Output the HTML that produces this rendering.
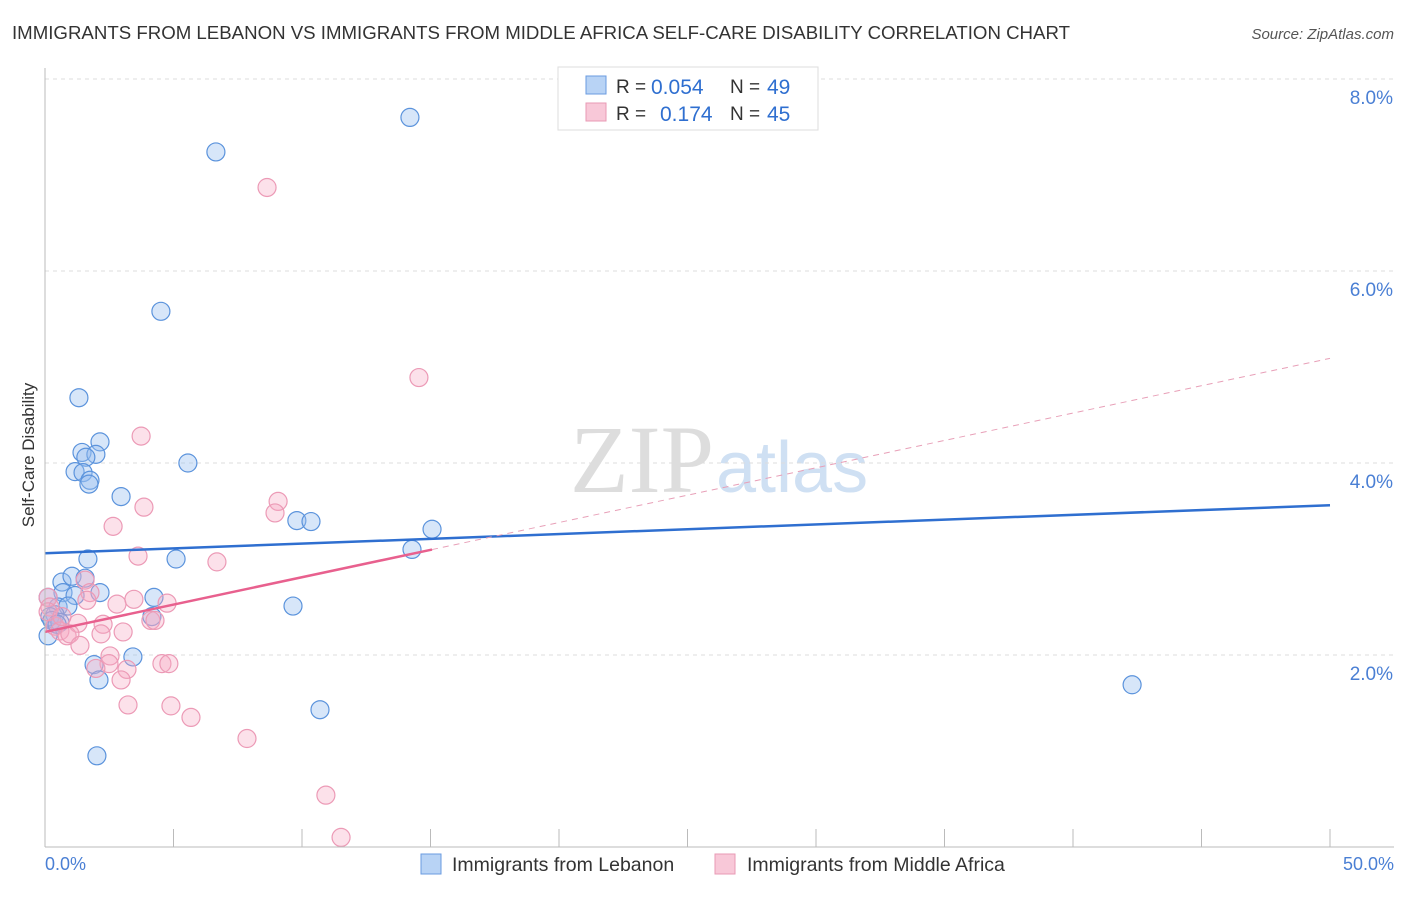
<!DOCTYPE html>
<html><head><meta charset="utf-8"><style>
body{margin:0;background:#fff;font-family:"Liberation Sans",sans-serif}
</style></head><body>
<svg id="c" width="1406" height="892" xmlns="http://www.w3.org/2000/svg">
<text x="12" y="39" font-size="18" fill="#333" textLength="1058" lengthAdjust="spacingAndGlyphs">IMMIGRANTS FROM LEBANON VS IMMIGRANTS FROM MIDDLE AFRICA SELF-CARE DISABILITY CORRELATION CHART</text>
<text x="1394" y="39" font-size="15" fill="#555" font-style="italic" text-anchor="end">Source: ZipAtlas.com</text>
<text x="714" y="492" font-size="96" fill="#ddd" font-family="Liberation Serif" text-anchor="end">ZIP</text>
<text x="716" y="492" font-size="72" fill="#cfe0f3">atlas</text>
<g id="grid"></g><g id="pts"></g><g id="lines"></g>
<line x1="45" y1="68" x2="45" y2="847" stroke="#bbb"/>
<line x1="45" y1="847" x2="1394" y2="847" stroke="#bbb"/>
<text x="34" y="455" font-size="17" fill="#333" transform="rotate(-90 34 455)" text-anchor="middle">Self-Care Disability</text>
<text x="45" y="870" font-size="18" fill="#4a7fd4">0.0%</text>
<text x="1394" y="870" font-size="18" fill="#4a7fd4" text-anchor="end">50.0%</text>
<g>
<rect x="558" y="67" width="260" height="63" fill="#fff" stroke="#ddd"/>
<rect x="586" y="76" width="20" height="18" fill="#b8d3f5" stroke="#6a9be0"/>
<rect x="586" y="103" width="20" height="18" fill="#f8c8d8" stroke="#e89ab4"/>
<text x="616" y="93" font-size="19" fill="#333">R =</text>
<text x="651" y="94" font-size="21" fill="#2f6fd0">0.054</text>
<text x="730" y="93" font-size="19" fill="#333">N =</text>
<text x="767" y="94" font-size="21" fill="#2f6fd0">49</text>
<text x="616" y="120" font-size="19" fill="#333">R =</text>
<text x="660" y="121" font-size="21" fill="#2f6fd0">0.174</text>
<text x="730" y="120" font-size="19" fill="#333">N =</text>
<text x="767" y="121" font-size="21" fill="#2f6fd0">45</text>
</g>
<g>
<rect x="421" y="854" width="20" height="20" fill="#b8d3f5" stroke="#6a9be0"/>
<text x="452" y="871" font-size="19.5" fill="#333">Immigrants from Lebanon</text>
<rect x="715" y="854" width="20" height="20" fill="#f8c8d8" stroke="#e89ab4"/>
<text x="747" y="871" font-size="19.5" fill="#333">Immigrants from Middle Africa</text>
</g>
</svg>
<script>
const yTicks=[2,4,6,8];
const xTickVals=[0,5,10,15,20,25,30,35,40,45,50];
const blueX=[14.2,6.65,4.51,1.32,2.14,1.44,1.98,1.59,1.17,1.48,1.75,1.71,5.56,2.96,9.8,10.35,15.06,14.28,1.67,5.1,0.66,1.05,1.56,2.14,0.7,1.17,0.51,0.89,0.39,0.19,0.27,0.58,0.12,4.24,9.65,4.16,3.42,1.91,2.1,10.7,2.02,42.3,0.12,0.47];
const blueY=[7.6,7.24,5.58,4.68,4.22,4.11,4.09,4.06,3.91,3.9,3.82,3.78,4.0,3.65,3.4,3.39,3.31,3.1,3.0,3.0,2.76,2.82,2.8,2.65,2.65,2.62,2.50,2.51,2.42,2.4,2.36,2.34,2.2,2.6,2.51,2.4,1.98,1.9,1.74,1.43,0.95,1.69,2.6,2.32];
const pinkX=[8.64,14.55,3.74,9.07,8.95,3.85,2.65,3.62,6.69,1.56,1.75,1.63,2.8,3.46,4.75,2.26,1.28,3.04,2.18,4.12,4.28,0.12,0.19,0.39,0.58,0.86,0.97,1.36,2.53,2.49,1.98,3.19,4.55,4.82,2.96,3.23,4.9,5.68,7.86,10.93,11.52,0.12,0.66];
const pinkY=[6.87,4.89,4.28,3.6,3.48,3.54,3.34,3.03,2.97,2.78,2.65,2.57,2.53,2.58,2.54,2.32,2.33,2.24,2.22,2.36,2.36,2.6,2.5,2.3,2.25,2.2,2.22,2.1,1.99,1.91,1.86,1.85,1.91,1.91,1.74,1.48,1.47,1.35,1.13,0.54,0.1,2.45,2.4];
const blueTrend=[3.06,3.56];
const pinkTrend=[2.24,5.09];
const pinkSolidEnd=15.06;
const X=v=>45+v/50*1285, Y=v=>847-v*96;
const ns="http://www.w3.org/2000/svg";
function mk(t,a,p){const e=document.createElementNS(ns,t);for(const k in a)e.setAttribute(k,a[k]);p.appendChild(e);return e;}
const g=document.getElementById('grid');
yTicks.forEach(t=>{
 const l=mk('line',{x1:45,x2:1394,y1:Y(t),y2:Y(t),stroke:'#ddd','stroke-dasharray':'4 4'},g);
 
 
 const tx=mk('text',{x:1393,y:Y(t)+25,'font-size':19,fill:'#4a7fd4','text-anchor':'end'},g);
 tx.textContent=t.toFixed(1)+'%';
 
 
});
xTickVals.forEach(t=>{
 const l=mk('line',{x1:X(t),x2:X(t),y1:829,y2:847,stroke:'#bbb'},g);
 
 
});
const p=document.getElementById('pts');
blueX.forEach((v,i)=>{const c=mk('circle',{cx:X(v),cy:Y(blueY[i]),r:9,fill:'rgba(150,190,240,0.38)',stroke:'#5b93dc','stroke-width':1.2},p);
 
 });
pinkX.forEach((v,i)=>{const c=mk('circle',{cx:X(v),cy:Y(pinkY[i]),r:9,fill:'rgba(245,170,195,0.35)',stroke:'#ec9ab6','stroke-width':1.2},p);
 
 });
const L=document.getElementById('lines');
const pt=x=>pinkTrend[0]+(pinkTrend[1]-pinkTrend[0])*x/50;
let a=mk('line',{x1:X(0),y1:Y(blueTrend[0]),x2:X(50),y2:Y(blueTrend[1]),stroke:'#2f6fd0','stroke-width':2.5},L);


a=mk('line',{x1:X(0),y1:Y(pt(0)),x2:X(pinkSolidEnd),y2:Y(pt(pinkSolidEnd)),stroke:'#e8608e','stroke-width':2.5},L);


a=mk('line',{x1:X(pinkSolidEnd),y1:Y(pt(pinkSolidEnd)),x2:X(50),y2:Y(pt(50)),stroke:'#e8a0b8','stroke-width':1,'stroke-dasharray':'6 5'},L);


</script>
</body></html>
